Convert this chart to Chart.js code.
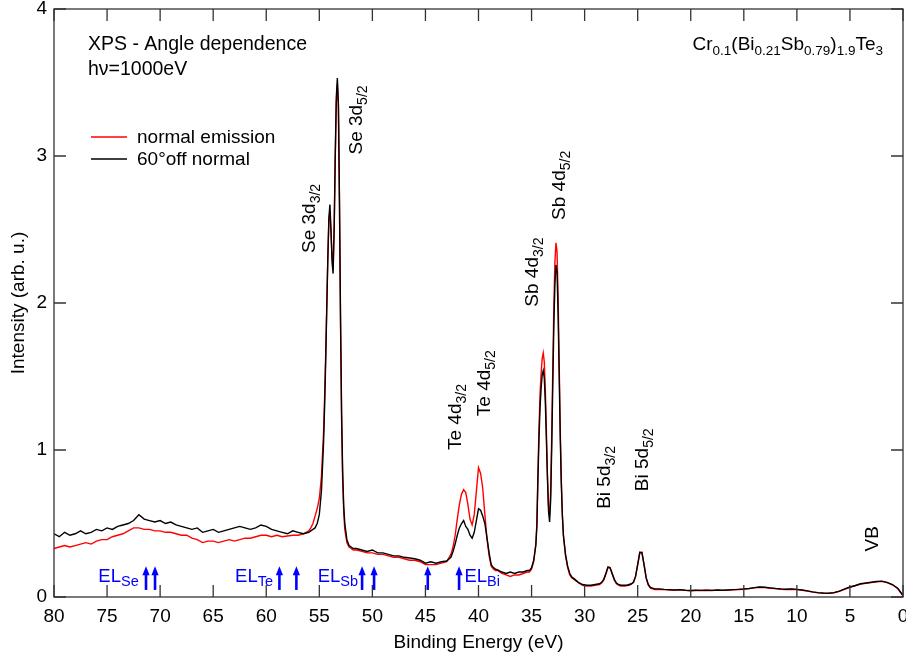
<!DOCTYPE html>
<html lang="en">
<head>
<meta charset="UTF-8">
<title>XPS - Angle dependence</title>
<script src="https://cdn.jsdelivr.net/npm/chart.js"></script>
<style>
  body { margin: 0; background: #fff; }
  canvas { display: block; }
</style>
</head>
<body>
<canvas id="xpsChart" width="906" height="659"></canvas>
<script>
// Binding energy grid (eV), one line per region of the spectrum
const bindingEnergy = [
  80, 79.5, 79, 78.5, 78, 77.5, 77, 76.5, 76, 75.5, 75, 74.5, 74, 73.5, 73, 72.5, 72, 71.5, 71, 70.5,
  70, 69.5, 69, 68.5, 68, 67.5, 67, 66.5, 66, 65.5, 65, 64.5, 64, 63.5, 63, 62.5, 62, 61.5, 61, 60.5,
  60, 59.5, 59, 58.5, 58, 57.5, 57, 56.5, 56,
  55.8, 55.6, 55.4, 55.2, 55.0, 54.8, 54.6, 54.5, 54.4, 54.3, 54.2, 54.1, 54.0, 53.9, 53.8, 53.7, 53.6,
  53.5, 53.4, 53.3, 53.2, 53.1, 53.0, 52.9, 52.8, 52.7, 52.6, 52.4, 52.2, 52.0, 51.8,
  51.5, 51, 50.5, 50, 49.5, 49, 48.5, 48, 47.5, 47, 46.5, 46, 45.5, 45, 44.5, 44, 43.5, 43,
  42.6, 42.4, 42.2, 42.0, 41.8, 41.6, 41.4, 41.2, 41.0, 40.8, 40.6, 40.4, 40.2, 40.0, 39.8, 39.6, 39.4,
  39.2, 39.0, 38.8, 38.6, 38.4, 38.2,
  37.8, 37.4, 37.0, 36.6, 36.2, 35.8, 35.4,
  35.2, 35.0, 34.8, 34.6, 34.5, 34.4, 34.3, 34.2, 34.1, 34.0, 33.9, 33.8, 33.7, 33.6, 33.5, 33.4, 33.3,
  33.2, 33.1, 33.0, 32.9, 32.8, 32.7, 32.6, 32.5, 32.4, 32.3, 32.2, 32.1, 32.0, 31.8, 31.6, 31.4, 31.2, 31.0,
  30.6, 30.2, 29.8, 29.4, 29.0, 28.6,
  28.4, 28.2, 28.0, 27.8, 27.6, 27.4, 27.2, 27.0, 26.8, 26.6, 26.4, 26.2, 26.0, 25.8, 25.6, 25.4, 25.2,
  25.0, 24.8, 24.6, 24.4, 24.2, 24.0, 23.8, 23.6, 23.4,
  23, 22.5, 22, 21.5, 21, 20.5, 20, 19.5, 19, 18.5, 18, 17.5, 17, 16.5, 16, 15.5, 15, 14.5, 14, 13.5,
  13, 12.5, 12, 11.5, 11, 10.5, 10, 9.5, 9, 8.5, 8, 7.5, 7, 6.5, 6, 5.5, 5, 4.5, 4, 3.5, 3, 2.5, 2,
  1.5, 1, 0.5, 0
];

// normal emission (red)
const normalEmission = [
  0.33, 0.34, 0.35, 0.34, 0.35, 0.36, 0.37, 0.36, 0.38, 0.39, 0.39, 0.41, 0.42, 0.43, 0.45, 0.47, 0.47, 0.46, 0.46, 0.45,
  0.45, 0.44, 0.44, 0.43, 0.42, 0.42, 0.40, 0.39, 0.37, 0.38, 0.38, 0.37, 0.38, 0.39, 0.38, 0.39, 0.40, 0.40, 0.41, 0.42,
  0.42, 0.41, 0.42, 0.41, 0.415, 0.42, 0.42, 0.43, 0.45,
  0.47, 0.50, 0.55, 0.60, 0.67, 0.82, 1.12, 1.36, 1.65, 1.98, 2.30, 2.55, 2.62, 2.48, 2.32, 2.26, 2.52,
  2.98, 3.36, 3.49, 3.33, 2.66, 1.85, 1.20, 0.80, 0.58, 0.46, 0.37, 0.34, 0.33, 0.32,
  0.32, 0.31, 0.30, 0.30, 0.29, 0.29, 0.28, 0.27, 0.27, 0.26, 0.25, 0.25, 0.24, 0.22, 0.22, 0.22, 0.23, 0.24,
  0.29, 0.34, 0.42, 0.53, 0.63, 0.70, 0.73, 0.71, 0.63, 0.53, 0.49, 0.56, 0.72, 0.88, 0.84, 0.74, 0.56,
  0.40, 0.28, 0.21, 0.19, 0.18, 0.18,
  0.16, 0.15, 0.14, 0.15, 0.15, 0.16, 0.17,
  0.17, 0.19, 0.24, 0.36, 0.50, 0.85, 1.15, 1.38, 1.52, 1.62, 1.66, 1.60, 1.40, 1.12, 0.82, 0.62, 0.56,
  0.72, 1.10, 1.55, 1.98, 2.28, 2.41, 2.35, 2.05, 1.60, 1.15, 0.80, 0.56, 0.42, 0.28, 0.20, 0.15, 0.13, 0.12,
  0.10, 0.08, 0.075, 0.075, 0.08, 0.085,
  0.095, 0.115, 0.155, 0.20, 0.195, 0.155, 0.115, 0.09, 0.08, 0.075, 0.075, 0.075, 0.078, 0.08, 0.088, 0.10, 0.14,
  0.22, 0.30, 0.305, 0.22, 0.13, 0.08, 0.06, 0.055, 0.05,
  0.052, 0.05, 0.048, 0.047, 0.048, 0.045, 0.043, 0.045, 0.044, 0.046, 0.044, 0.047, 0.045, 0.047, 0.049, 0.051, 0.053, 0.057, 0.062, 0.066,
  0.064, 0.06, 0.057, 0.053, 0.051, 0.053, 0.05, 0.046, 0.04, 0.033, 0.028, 0.025, 0.025, 0.029, 0.038, 0.052, 0.065, 0.076, 0.088, 0.093, 0.098, 0.103, 0.106,
  0.098, 0.083, 0.058, 0.008
];

// 60 deg off normal (black)
const offNormal60 = [
  0.43, 0.41, 0.44, 0.42, 0.43, 0.45, 0.43, 0.44, 0.46, 0.45, 0.47, 0.46, 0.48, 0.49, 0.50, 0.52, 0.56, 0.53, 0.52, 0.51,
  0.52, 0.50, 0.51, 0.49, 0.48, 0.47, 0.46, 0.47, 0.44, 0.45, 0.46, 0.44, 0.45, 0.46, 0.47, 0.48, 0.47, 0.46, 0.47, 0.49,
  0.48, 0.46, 0.45, 0.44, 0.43, 0.45, 0.44, 0.43, 0.44,
  0.45, 0.46, 0.47, 0.50, 0.56, 0.72, 1.05, 1.30, 1.60, 1.95, 2.30, 2.58, 2.67, 2.50, 2.28, 2.20, 2.50,
  3.00, 3.40, 3.53, 3.35, 2.70, 1.90, 1.25, 0.85, 0.62, 0.50, 0.39, 0.35, 0.34, 0.33,
  0.33, 0.32, 0.31, 0.32, 0.30, 0.30, 0.29, 0.28, 0.28, 0.27, 0.265, 0.26, 0.25, 0.23, 0.24, 0.23, 0.24, 0.245,
  0.27, 0.31, 0.36, 0.42, 0.47, 0.50, 0.52, 0.48, 0.46, 0.42, 0.40, 0.44, 0.52, 0.60, 0.59, 0.55, 0.50,
  0.40, 0.30, 0.22, 0.20, 0.19, 0.185,
  0.17, 0.16, 0.17, 0.16, 0.17, 0.17, 0.18,
  0.18, 0.20, 0.25, 0.35, 0.48, 0.80, 1.08, 1.29, 1.42, 1.51, 1.54, 1.49, 1.32, 1.06, 0.80, 0.58, 0.51,
  0.66, 1.02, 1.45, 1.85, 2.13, 2.26, 2.21, 1.93, 1.52, 1.10, 0.78, 0.56, 0.42, 0.29, 0.21, 0.16, 0.135, 0.125,
  0.10, 0.085, 0.08, 0.08, 0.085, 0.09,
  0.10, 0.12, 0.16, 0.205, 0.20, 0.16, 0.12, 0.095, 0.085, 0.08, 0.08, 0.08, 0.08, 0.085, 0.09, 0.10, 0.14,
  0.22, 0.305, 0.30, 0.22, 0.13, 0.085, 0.065, 0.06, 0.055,
  0.055, 0.052, 0.05, 0.048, 0.05, 0.046, 0.044, 0.046, 0.045, 0.047, 0.045, 0.048, 0.046, 0.048, 0.05, 0.052, 0.055, 0.058, 0.064, 0.068,
  0.066, 0.062, 0.058, 0.055, 0.053, 0.055, 0.052, 0.048, 0.042, 0.035, 0.03, 0.027, 0.026, 0.03, 0.04, 0.055, 0.068, 0.078, 0.09, 0.095, 0.10, 0.105, 0.108,
  0.10, 0.085, 0.06, 0.01
];

// core level labels: [name, subscript, energy (eV), intensity where the text starts]
const peakLabels = [
  ['Se 3d', '3/2', 55.40, 2.34],
  ['Se 3d', '5/2', 51.00, 3.01],
  ['Te 4d', '3/2', 41.64, 1.00],
  ['Te 4d', '5/2', 38.91, 1.23],
  ['Sb 4d', '3/2', 34.35, 1.975],
  ['Sb 4d', '5/2', 31.84, 2.565],
  ['Bi 5d', '3/2', 27.60, 0.60],
  ['Bi 5d', '5/2', 23.99, 0.72],
  ['VB', '', 2.31, 0.31]
];

// energy loss markers
const lossArrowsEV = [71.33, 70.48, 58.76, 57.16, 50.97, 49.84, 44.78, 41.83];
const lossLabels = [['Se', 75.82], ['Te', 62.94], ['Sb', 55.15], ['Bi', 41.33]];

const FONT = "'Liberation Sans', Arial, sans-serif";
Chart.defaults.font.family = FONT;

function toPoints(xs, ys) {
  return xs.map((x, i) => ({x: x, y: ys[i]}));
}

// draws text with subscripts, parts = [[text, isSub], ...]
function drawRich(ctx, parts, x, y, big, small, drop) {
  let cx = x;
  parts.forEach(p => {
    ctx.font = (p[1] ? small : big) + 'px ' + FONT;
    ctx.fillText(p[0], cx, p[1] ? y + drop : y);
    cx += ctx.measureText(p[0]).width;
  });
  return cx - x;
}

function richWidth(ctx, parts, big, small) {
  let w = 0;
  parts.forEach(p => {
    ctx.font = (p[1] ? small : big) + 'px ' + FONT;
    w += ctx.measureText(p[0]).width;
  });
  return w;
}

function noLabelPadding(scale) {
  scale.paddingLeft = 0;
  scale.paddingRight = 0;
  scale.paddingTop = 0;
  scale.paddingBottom = 0;
}

const overlay = {
  id: 'overlay',
  afterDraw(chart) {
    const ctx = chart.ctx;
    const a = chart.chartArea;
    const xs = chart.scales.x, ys = chart.scales.y;
    ctx.save();

    // frame with inward ticks on all four sides
    ctx.strokeStyle = '#333';
    ctx.lineWidth = 1.3;
    ctx.strokeRect(a.left, a.top, a.right - a.left, a.bottom - a.top);
    ctx.beginPath();
    xs.ticks.forEach(t => {
      const px = xs.getPixelForValue(t.value);
      ctx.moveTo(px, a.bottom); ctx.lineTo(px, a.bottom - 12);
      ctx.moveTo(px, a.top); ctx.lineTo(px, a.top + 12);
    });
    ys.ticks.forEach(t => {
      const py = ys.getPixelForValue(t.value);
      ctx.moveTo(a.left, py); ctx.lineTo(a.left + 12, py);
      ctx.moveTo(a.right, py); ctx.lineTo(a.right - 12, py);
    });
    ctx.stroke();

    ctx.fillStyle = '#000';
    ctx.textAlign = 'left';
    ctx.textBaseline = 'alphabetic';

    // header texts
    ctx.font = '19.5px ' + FONT;
    ctx.fillText('XPS - Angle dependence', a.left + 34, a.top + 41);
    ctx.fillText('h\u03bd=1000eV', a.left + 34, a.top + 66);
    const formula = [['Cr', 0], ['0.1', 1], ['(Bi', 0], ['0.21', 1], ['Sb', 0], ['0.79', 1],
                     [')', 0], ['1.9', 1], ['Te', 0], ['3', 1]];
    const fw = richWidth(ctx, formula, 19, 13.5);
    drawRich(ctx, formula, a.right - 20 - fw, a.top + 41, 19, 13.5, 5);

    // legend
    const legend = [['normal emission', '#ff0000', 128], ['60\u00b0off normal', '#000000', 150]];
    legend.forEach(l => {
      ctx.strokeStyle = l[1];
      ctx.lineWidth = 1.3;
      ctx.beginPath();
      ctx.moveTo(a.left + 37, a.top + l[2]);
      ctx.lineTo(a.left + 73, a.top + l[2]);
      ctx.stroke();
      ctx.font = '19px ' + FONT;
      ctx.textBaseline = 'middle';
      ctx.fillText(l[0], a.left + 83, a.top + l[2] + 1);
    });
    ctx.textBaseline = 'alphabetic';

    // rotated peak labels
    peakLabels.forEach(p => {
      ctx.save();
      ctx.translate(xs.getPixelForValue(p[2]), ys.getPixelForValue(p[3]));
      ctx.rotate(-Math.PI / 2);
      drawRich(ctx, [[p[0], 0], [p[1], 1]], 0, 0, 19, 14, 5);
      ctx.restore();
    });

    // energy loss arrows and labels
    ctx.fillStyle = '#0000ff';
    ctx.strokeStyle = '#0000ff';
    lossArrowsEV.forEach(v => {
      const px = xs.getPixelForValue(v);
      const y0 = ys.getPixelForValue(0.048);
      const y1 = ys.getPixelForValue(0.21);
      ctx.lineWidth = 2.6;
      ctx.beginPath();
      ctx.moveTo(px, y0);
      ctx.lineTo(px, y1 + 6);
      ctx.stroke();
      ctx.beginPath();
      ctx.moveTo(px, y1);
      ctx.lineTo(px - 3.6, y1 + 9);
      ctx.lineTo(px + 3.6, y1 + 9);
      ctx.closePath();
      ctx.fill();
    });
    lossLabels.forEach(l => {
      drawRich(ctx, [['EL', 0], [l[0], 1]], xs.getPixelForValue(l[1]), ys.getPixelForValue(0.10), 18.5, 14.5, 4);
    });

    ctx.restore();
  }
};

new Chart(document.getElementById('xpsChart'), {
  type: 'line',
  data: {
    datasets: [
      {
        label: 'normal emission',
        data: toPoints(bindingEnergy, normalEmission),
        borderColor: '#ff0000',
        borderWidth: 1.4,
        pointRadius: 0,
        tension: 0,
        fill: false,
        order: 2
      },
      {
        label: '60\u00b0off normal',
        data: toPoints(bindingEnergy, offNormal60),
        borderColor: '#000000',
        borderWidth: 1.4,
        pointRadius: 0,
        tension: 0,
        fill: false,
        order: 1
      }
    ]
  },
  options: {
    responsive: false,
    animation: false,
    layout: { padding: { left: 0, right: 3, top: 9, bottom: 0 } },
    plugins: {
      legend: { display: false },
      tooltip: { enabled: false }
    },
    scales: {
      x: {
        type: 'linear',
        reverse: true,
        min: 0,
        max: 80,
        ticks: { stepSize: 5, color: '#000', font: { size: 19 }, padding: 8, maxRotation: 0, autoSkip: false },
        grid: { display: false, drawTicks: false, tickLength: 0 },
        border: { display: false },
        title: { display: true, text: 'Binding Energy (eV)', color: '#000', font: { size: 19 }, padding: { top: 0, bottom: 5 } },
        afterFit(scale) { scale.height = 62; noLabelPadding(scale); }
      },
      y: {
        min: 0,
        max: 4,
        ticks: { stepSize: 1, color: '#000', font: { size: 19 }, padding: 7 },
        grid: { display: false, drawTicks: false, tickLength: 0 },
        border: { display: false },
        title: { display: true, text: 'Intensity (arb. u.)', color: '#000', font: { size: 19 }, padding: { top: 7, bottom: 0 } },
        afterFit(scale) { scale.width = 54; noLabelPadding(scale); }
      }
    }
  },
  plugins: [overlay]
});
</script>
</body>
</html>
